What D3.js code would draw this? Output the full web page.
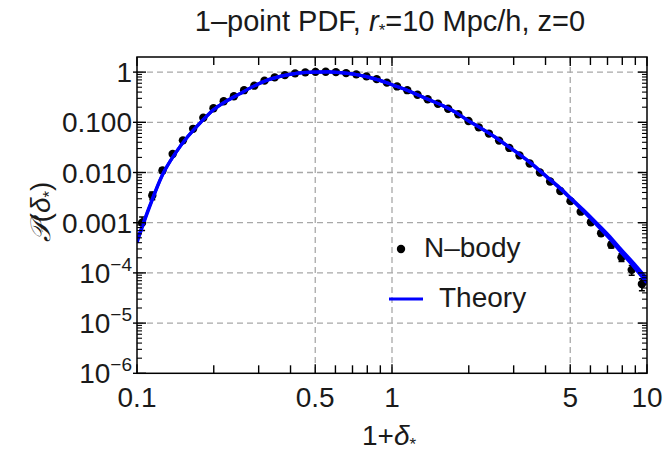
<!DOCTYPE html>
<html><head><meta charset="utf-8">
<script src="https://cdn.jsdelivr.net/npm/d3@7"></script>
<style>
body{margin:0;background:#fff}
svg text{font-family:"Liberation Sans",Arial,Helvetica,sans-serif;fill:#1a1a1a}
</style>
</head><body>
<svg id="c" width="669" height="453"></svg>
<script>
// ---- data ----
const nbodyX = [0.1047,0.1148,0.1259,0.1380,0.1514,0.1660,0.1820,0.1995,0.2188,0.2399,
  0.2630,0.2884,0.3162,0.3467,0.3802,0.4169,0.4571,0.5012,0.5495,0.6026,
  0.6607,0.7244,0.7943,0.8710,0.9550,1.047,1.148,1.259,1.380,1.514,
  1.660,1.820,1.995,2.188,2.399,2.630,2.884,3.162,3.467,3.802,
  4.169,4.571,5.012,5.495,6.026,6.607,7.244,7.943,8.710,9.550];
const nbodyP = [1.0e-3,3.47e-3,0.0110,0.0234,0.0437,0.0741,0.123,0.191,0.263,0.331,
  0.437,0.537,0.676,0.785,0.871,0.944,0.989,1.012,1.019,1.0,
  0.955,0.902,0.822,0.724,0.617,0.519,0.437,0.355,0.288,0.234,
  0.186,0.145,0.106,0.0794,0.0596,0.0432,0.0309,0.0219,0.0151,0.0100,
  6.61e-3,4.27e-3,2.69e-3,1.66e-3,1.02e-3,6.17e-4,3.63e-4,2.04e-4,1.15e-4,6.0e-5];
const nbodyErr = [3e-4,6e-4,1.2e-3,1.5e-3,1.8e-3,2.2e-3,2.5e-3,3e-3,3e-3,3.5e-3,
  4e-3,4e-3,4.5e-3,5e-3,5e-3,5e-3,5e-3,5e-3,5e-3,5e-3,
  5e-3,5e-3,4.5e-3,4e-3,4e-3,3.5e-3,3e-3,2.5e-3,2.2e-3,2e-3,
  1.6e-3,1.3e-3,1e-3,8e-4,6e-4,5e-4,4e-4,3e-4,2.5e-4,2e-4,
  1.5e-4,1.2e-4,1e-4,1e-4,8e-5,6e-5,5e-5,3.5e-5,2.5e-5,1.6e-5];

const theoryX = [0.1,0.1059,0.1122,0.1259,0.1413,0.1585,0.1778,0.1995,0.2239,0.2512,
  0.2818,0.3162,0.3548,0.3981,0.4467,0.5012,0.5623,0.631,0.7079,0.7943,
  0.8913,1,1.122,1.259,1.413,1.585,1.778,1.995,2.239,2.512,
  2.818,3.162,3.548,3.981,4.467,5.012,5.623,6.31,7.079,7.943,8.913,10];
const theoryA = [3.98e-4,9.33e-4,2.09e-3,8.91e-3,0.024,0.0525,0.100,0.178,0.263,0.363,
  0.501,0.661,0.794,0.902,0.973,1.0,1.012,0.977,0.912,0.813,
  0.692,0.562,0.457,0.355,0.275,0.214,0.158,0.107,0.0759,0.0525,
  0.0347,0.0229,0.0145,8.71e-3,5.25e-3,3.02e-3,1.70e-3,9.33e-4,5.01e-4,2.51e-4,1.29e-4,6.31e-5];
const theoryB = [4.5e-4,1.0e-3,2.2e-3,9.1e-3,0.024,0.0525,0.100,0.178,0.263,0.363,
  0.501,0.661,0.794,0.902,0.973,1.0,1.012,0.977,0.912,0.813,
  0.692,0.562,0.457,0.355,0.275,0.214,0.158,0.107,0.0759,0.0525,
  0.0347,0.0230,0.0147,8.91e-3,5.43e-3,3.16e-3,1.82e-3,1.02e-3,5.62e-4,2.88e-4,1.51e-4,7.59e-5];

const xTickVals = [0.1,0.5,1,5,10];
const xTickLabels = ["0.1","0.5","1","5","10"];
const xMinorVals = [0.2,0.3,0.4,0.6,0.7,0.8,0.9,2,3,4,6,7,8,9];
const yTickVals = [1,0.1,0.01,0.001,1e-4,1e-5,1e-6];
const yTickLabels = [["1",""],["0.100",""],["0.010",""],["0.001",""],["10","−4"],["10","−5"],["10","−6"]];
const xGridVals = [0.5,1,5];
const yGridVals = [1,0.1,0.01,0.001,1e-4,1e-5];

// ---- layout ----
const L=137, R=647, T=57, B=373.3;
const svg = d3.select("#c");
const x = d3.scaleLog().domain([0.1,10]).range([L,R]);
const y = d3.scaleLog().domain([1e-6,2]).range([B,T]);
const FS = 28;

// grid
const grid = svg.append("g").attr("stroke","#a8a8a8").attr("stroke-width",1.3).attr("stroke-dasharray","6,4");
grid.selectAll(".gx").data(xGridVals).join("line").attr("x1",d=>x(d)).attr("x2",d=>x(d)).attr("y1",T).attr("y2",B);
grid.selectAll(".gy").data(yGridVals).join("line").attr("y1",d=>y(d)).attr("y2",d=>y(d)).attr("x1",L).attr("x2",R);

// clip
svg.append("clipPath").attr("id","clip").append("rect").attr("x",L).attr("y",T).attr("width",R-L).attr("height",B-T);
const plot = svg.append("g").attr("clip-path","url(#clip)");

// N-body points with error bars
const pts = nbodyX.map((v,i)=>({x:v,p:nbodyP[i],e:nbodyErr[i]}));
const eb = plot.append("g").attr("stroke","#000").attr("stroke-width",1.6);
pts.forEach(d=>{
  const lo = Math.max(d.p-d.e, 1e-7), hi = d.p+d.e;
  const cx = x(d.x);
  if (y(lo)-y(hi) > 4) {
    eb.append("line").attr("x1",cx).attr("x2",cx).attr("y1",y(lo)).attr("y2",y(hi));
    eb.append("line").attr("x1",cx-3).attr("x2",cx+3).attr("y1",y(lo)).attr("y2",y(lo));
    eb.append("line").attr("x1",cx-3).attr("x2",cx+3).attr("y1",y(hi)).attr("y2",y(hi));
  }
});
plot.append("g").selectAll("circle").data(pts).join("circle")
  .attr("cx",d=>x(d.x)).attr("cy",d=>y(d.p)).attr("r",4.2).attr("fill","#000");

// theory lines
const line = d3.line().x(d=>x(d[0])).y(d=>y(d[1])).curve(d3.curveMonotoneX);
[theoryA,theoryB].forEach(arr=>{
  plot.append("path").datum(theoryX.map((v,i)=>[v,arr[i]]))
    .attr("d",line).attr("fill","none").attr("stroke","#0000ff").attr("stroke-width",3.2);
});

// frame
svg.append("rect").attr("x",L).attr("y",T).attr("width",R-L).attr("height",B-T)
  .attr("fill","none").attr("stroke","#000").attr("stroke-width",1.5);

// ticks
const tk = svg.append("g").attr("stroke","#000").attr("stroke-width",1.4);
xTickVals.concat(xMinorVals).forEach(v=>{
  const X = x(v), len = xTickVals.includes(v)?9:8;
  tk.append("line").attr("x1",X).attr("x2",X).attr("y1",B).attr("y2",B-len);
  tk.append("line").attr("x1",X).attr("x2",X).attr("y1",T).attr("y2",T+len);
});
yTickVals.forEach(v=>{
  const Y=y(v);
  tk.append("line").attr("x1",L-4).attr("x2",L+9).attr("y1",Y).attr("y2",Y);
  tk.append("line").attr("x1",R-9).attr("x2",R).attr("y1",Y).attr("y2",Y);
});
const yMinor=[];
[-6,-5,-4,-3,-2,-1,0].forEach(e=>{[2,3,4,5,6,7,8,9].forEach(k=>{const v=k*Math.pow(10,e); if(v<1.95) yMinor.push(v);});});
yMinor.forEach(v=>{
  const Y=y(v);
  tk.append("line").attr("x1",L).attr("x2",L+5).attr("y1",Y).attr("y2",Y).attr("stroke-width",1.1);
  tk.append("line").attr("x1",R-5).attr("x2",R).attr("y1",Y).attr("y2",Y).attr("stroke-width",1.1);
});

// x tick labels
svg.append("g").selectAll("text").data(xTickVals).join("text")
  .attr("x",d=>x(d)).attr("y",407).attr("text-anchor","middle").attr("font-size",FS)
  .text((d,i)=>xTickLabels[i]);

// y tick labels
yTickVals.forEach((v,i)=>{
  const t = svg.append("text").attr("x",L-5).attr("y",y(v)+10).attr("text-anchor","end").attr("font-size",FS);
  t.append("tspan").text(yTickLabels[i][0]);
  if (yTickLabels[i][1]) t.append("tspan").attr("font-size",19).attr("dy",-12).text(yTickLabels[i][1]);
});

// title
const title = svg.append("text").attr("x",390).attr("y",31).attr("text-anchor","middle").attr("font-size",29);
title.append("tspan").text("1–point PDF, ");
title.append("tspan").attr("font-style","italic").text("r");
title.append("tspan").attr("font-size",17).attr("dy",5).text("*");
title.append("tspan").attr("dy",-5).text("=10 Mpc/h, z=0");

// x axis label
const xl = svg.append("text").attr("x",389).attr("y",445).attr("text-anchor","middle").attr("font-size",FS);
xl.append("tspan").text("1+");
xl.append("tspan").attr("font-style","italic").text("δ");
xl.append("tspan").attr("font-size",17).attr("dy",5).text("*");

// y axis label
const yl = svg.append("text").attr("transform","translate(50,212) rotate(-90)").attr("text-anchor","middle").attr("font-size",FS);
yl.append("tspan").attr("font-family","DejaVu Serif, serif").attr("font-style","italic").text("𝒫");
yl.append("tspan").text("(");
yl.append("tspan").attr("font-style","italic").text("δ");
yl.append("tspan").attr("font-size",17).attr("dy",5).text("*");
yl.append("tspan").attr("dy",-5).text(")");

// legend
const lg = svg.append("g");
lg.append("circle").attr("cx",401).attr("cy",249).attr("r",4.2).attr("fill","#000");
lg.append("text").attr("x",424).attr("y",257).attr("font-size",FS).text("N–body");
lg.append("line").attr("x1",389).attr("x2",423).attr("y1",299).attr("y2",299).attr("stroke","#0000ff").attr("stroke-width",2.8);
lg.append("text").attr("x",439).attr("y",307).attr("font-size",FS).text("Theory");
</script>
</body></html>
